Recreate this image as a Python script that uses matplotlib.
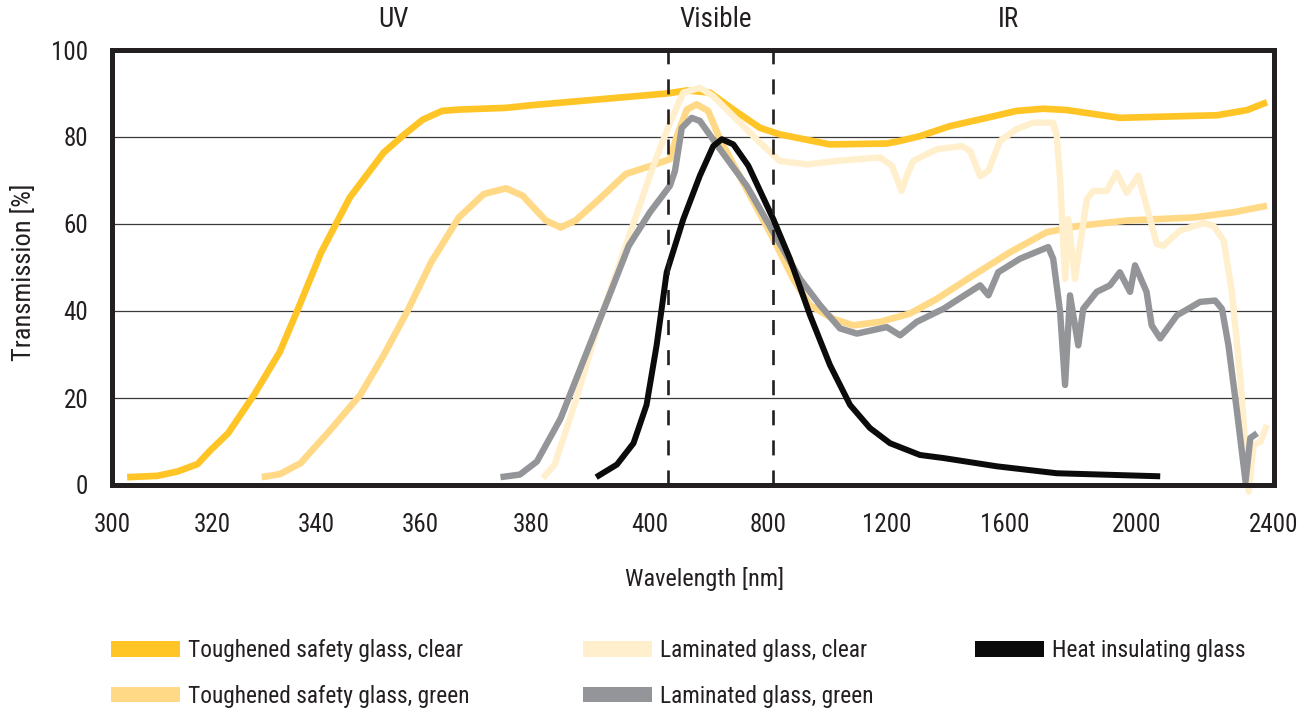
import numpy as np
import matplotlib
matplotlib.use("Agg")
import matplotlib.pyplot as plt
import matplotlib.transforms as mtransforms
from matplotlib import font_manager
from matplotlib.patches import Patch

# irregular wavelength axis: tick values and where they sit across the plot
tick_wl = [300, 320, 340, 360, 380, 400, 800, 1200, 1600, 2000, 2400]
tick_pos = [112, 212.6, 316, 420, 531, 649.5, 768, 886.5, 1005, 1137, 1273.5]

y_ticks = [0, 20, 40, 60, 80, 100]
visible_edges = [462, 817]
regions = ["UV", "Visible", "IR"]
region_wl = [355, 625, 1610]

labels = [
    "Toughened safety glass, clear",
    "Toughened safety glass, green",
    "Laminated glass, clear",
    "Laminated glass, green",
    "Heat insulating glass",
]

tsg_clear_wl = [303, 309, 313, 317, 319.5, 323, 328, 333, 336, 341, 346.5, 353, 357, 360.5, 364,
                367, 375.5, 380, 458, 526, 604, 683, 773, 840, 1009, 1201, 1246, 1313, 1414, 1538,
                1635, 1716, 1787, 1948, 2087, 2234, 2323, 2381]
tsg_clear_t = [1.8, 2.1, 3.1, 4.8, 7.9, 11.9, 20.7, 30.6, 39, 53.5, 66.1, 76.4, 80.6, 84, 86,
               86.3, 86.7, 87.3, 90, 90.7, 90.2, 86.3, 82.1, 80.6, 78.3, 78.5, 79.1, 80.2, 82.5, 84.4,
               86, 86.5, 86.2, 84.4, 84.7, 85, 86.2, 88]

tsg_green_wl = [329.5, 333, 337, 342.5, 348.5, 353, 357.5, 362, 367, 371.5, 375.5, 378.5, 382.5,
                385, 387.5, 391.5, 396, 401.5, 469, 492, 526, 559, 598, 638, 728, 818, 885, 942,
                1020, 1088, 1178, 1279, 1370, 1493, 1615, 1726, 1827, 1969, 2166, 2283, 2381]
tsg_green_t = [1.8, 2.5, 5, 12.3, 20.7, 29.8, 39.8, 51.2, 61.5, 66.9, 68.2, 66.5, 60.8,
               59.2, 60.8, 65.7, 71.5, 73.3, 74.9, 80.2, 86.3, 87.5, 86, 79.5, 68, 56.6, 47.4, 41.3,
               38.2, 36.7, 37.5, 39.4, 42.8, 48.2, 53.5, 58.1, 59.6, 60.8, 61.5, 62.7, 64.2]

lam_clear_wl = [382, 384, 387.5, 391.5, 396, 413, 469, 514, 570, 615, 683, 773, 840, 931, 1032,
                1178, 1218, 1251, 1268, 1290, 1370, 1454, 1482, 1516, 1544, 1583, 1635, 1686, 1746,
                1757, 1767, 1782, 1792, 1812, 1848, 1867, 1908, 1938, 1969, 2004, 2033, 2058, 2077,
                2126, 2195, 2224, 2254, 2278, 2303, 2327, 2342, 2362, 2381]
lam_clear_t = [1.6, 4.7, 19.2, 37.5, 55, 73.4, 83.3, 90.2, 91.3, 89.4, 84.8, 78.7, 74.5, 73.7, 74.5,
               75.3, 73.4, 67.6, 71, 74.5, 77.2, 77.9, 76.8, 71, 72.2, 79.1, 81.8, 83.3, 83.3,
               80.2, 70.3, 47.4, 61.1, 47.4, 65.7, 67.6, 67.6, 71.8, 67.2, 71.1, 62.7, 55.4, 55,
               58.5, 60.2, 59.6, 56.2, 44.4, 24.5, -1.5, 9.2, 10, 13.8]

lam_green_wl = [374.5, 378, 381, 385, 389, 393, 396.5, 401.5, 469, 486, 509, 542.5, 570, 638, 728,
                818, 908, 976, 1043, 1100, 1201, 1246, 1302, 1392, 1516, 1544, 1577, 1645, 1731,
                1746, 1767, 1782, 1797, 1822, 1837, 1878, 1918, 1948, 1979, 1994, 2028, 2043, 2068,
                2117, 2185, 2229, 2249, 2268, 2293, 2318, 2332, 2352]
lam_green_t = [1.8, 2.4, 5.4, 15.3, 29.1, 42.8, 55, 62.7, 68.8, 72.2, 82.1, 84.4, 83.7, 77.2, 68.8,
               58.1, 47.4, 41.3, 36, 34.8, 36.3, 34.4, 37.5, 40.5, 45.9, 43.6, 48.9, 52, 54.7,
               52, 39.8, 23, 43.6, 32.1, 40.5, 44.4, 45.9, 48.9, 44.4, 50.5, 44.4, 36.7, 33.7,
               39, 42.1, 42.4, 40.5, 32.1, 16.9, 0.8, 10.8, 11.9]

heat_wl = [391, 394.5, 397.3, 399.5, 424, 458, 514, 570, 615, 644, 683, 733.5, 818, 874, 942,
           1009, 1077, 1144, 1212, 1313, 1392, 1572, 1757, 2068]
heat_t = [1.8, 4.7, 9.6, 18.4, 32.1, 48.9, 61.1, 71.1, 77.9, 79.5, 78.3, 73.4, 61.1, 52, 39,
          27.6, 18.4, 13.1, 9.6, 6.9, 6.2, 4.3, 2.7, 2.0]

colors = ["#FFC425", "#FFD986", "#FFEFCC", "#939598", "#0B0B0B"]
INK = "#231F20"

names = {f.name for f in font_manager.fontManager.ttflist}
font = "Liberation Sans"
for cand in ["Liberation Sans Narrow", "Roboto Condensed", "Open Sans Condensed"]:
    if cand in names:
        font = cand
        break
plt.rcParams["font.family"] = [font, "DejaVu Sans"]


def fwd(x):
    return np.interp(x, tick_wl, tick_pos)


def inv(p):
    return np.interp(p, tick_pos, tick_wl)


W, H = 1309, 713
fig = plt.figure(figsize=(W / 100, H / 100), dpi=100)
ax = fig.add_axes([112 / W, (H - 485) / H, (1273.5 - 112) / W, (485 - 50) / H])
ax.set_xscale("function", functions=(fwd, inv))
ax.set_xlim(300, 2400)
ax.set_ylim(0, 100)
ax.set_xticks(tick_wl)
ax.set_xticklabels([str(v) for v in tick_wl])
ax.set_yticks(y_ticks)
ax.minorticks_off()
ax.tick_params(length=0, labelsize=18, colors=INK)
ax.tick_params(axis="x", pad=20)
ax.tick_params(axis="y", pad=17)
ax.yaxis.grid(True, color="#3a3a3a", lw=0.9)
ax.set_axisbelow(True)
for s in ax.spines.values():
    s.set_linewidth(3.6)
    s.set_color(INK)

series = [
    (tsg_clear_wl, tsg_clear_t),
    (tsg_green_wl, tsg_green_t),
    (lam_clear_wl, lam_clear_t),
    (lam_green_wl, lam_green_t),
    (heat_wl, heat_t),
]
widths = [4.8, 4.8, 4.6, 4.6, 4.3]
for (x, y), c, w in zip(series, colors, widths):
    ax.plot(x, y, color=c, lw=w, clip_on=False, solid_capstyle="butt")

for v in visible_edges:
    ax.axvline(v, color=INK, lw=1.9, linestyle=(0, (5.7, 5.7)), zorder=5)

trans = mtransforms.blended_transform_factory(ax.transData, ax.transAxes)
for name, wl in zip(regions, region_wl):
    ax.text(wl, 1.069, name, transform=trans, ha="center", va="center", fontsize=19.5, color=INK)

ax.set_xlabel("Wavelength [nm]", fontsize=17.5, color=INK)
ax.set_ylabel("Transmission [%]", fontsize=19, color=INK)
ax.xaxis.set_label_coords(0.51, -0.188)
ax.yaxis.set_label_coords(-0.0656, 0.49)

handles = [Patch(facecolor=c, edgecolor="none") for c in colors]
cols = [(0, 2, 111), (2, 4, 583), (4, 5, 975)]
for i0, i1, xpx in cols:
    fig.legend(handles[i0:i1], labels[i0:i1], loc="upper left",
               bbox_to_anchor=(xpx / W, (H - 639) / H), frameon=False,
               fontsize=16.8, borderpad=0, borderaxespad=0,
               handlelength=2.96, handleheight=0.64, handletextpad=0.34,
               labelspacing=0.98, labelcolor=INK)

fig.savefig("out.png", dpi=100)
